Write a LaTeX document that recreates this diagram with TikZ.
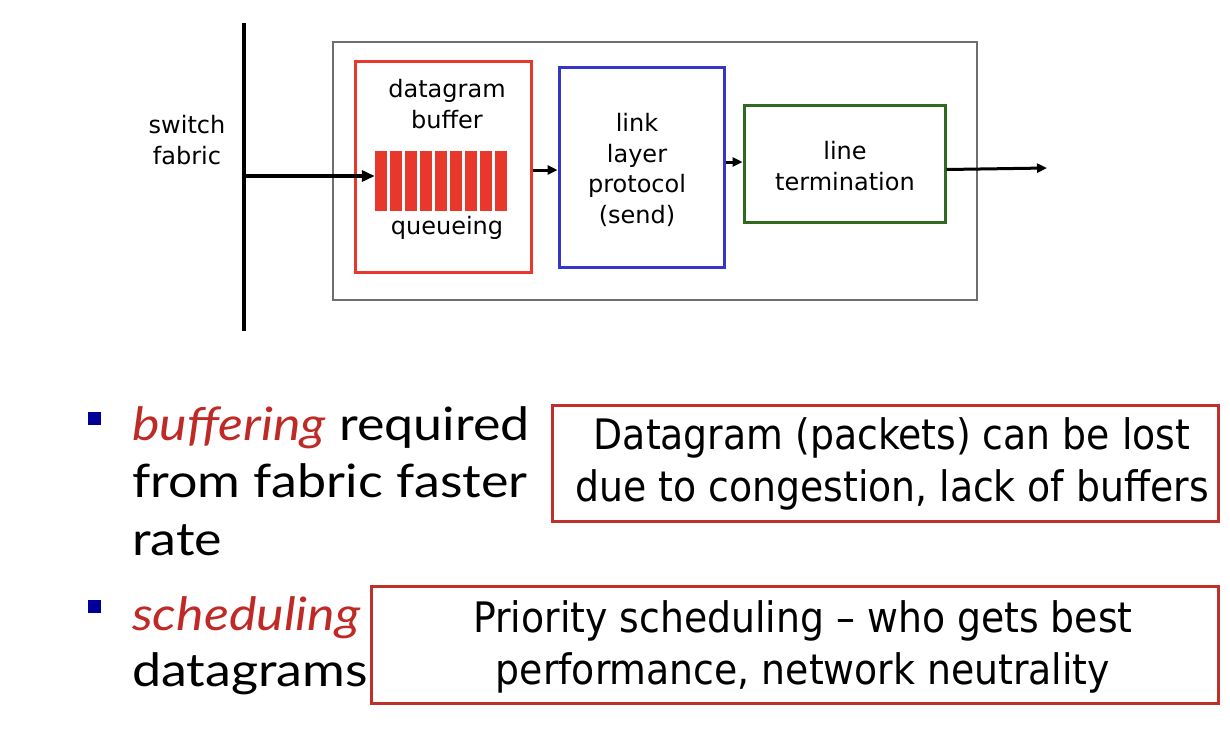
\documentclass[tikz,border=0pt]{standalone}
\usepackage{fontspec}
\setmainfont{Lato}[FakeStretch=1.13]
\newfontfamily\diagfont{DejaVu Sans}
\newfontfamily\notefont{DejaVu Sans Condensed}
\usetikzlibrary{arrows.meta}

\definecolor{bufred}{HTML}{E8382B}
\definecolor{linkblue}{HTML}{3535C8}
\definecolor{termgreen}{HTML}{2F6A1F}
\definecolor{framegray}{HTML}{6E6E6E}
\definecolor{emred}{HTML}{BF2A26}
\definecolor{bulletblue}{HTML}{000099}
\definecolor{notered}{HTML}{C0302A}

\tikzset{
  stage/.style={draw, line width=3pt, fill=white, inner sep=0pt},
  label/.style={font=\diagfont\fontsize{24}{30.5}\selectfont, align=center, inner sep=0pt},
  slot/.style={fill=bufred, minimum width=12pt, minimum height=60pt, inner sep=0pt},
  flow/.style={line width=3.5pt, -{Triangle[length=13pt,width=11pt]}},
  hop/.style={line width=3pt, -{Triangle[length=10pt,width=9pt]}},
  bulletsq/.style={fill=bulletblue, minimum width=13pt, minimum height=13pt, inner sep=0pt},
  bodytext/.style={font=\fontsize{46}{57}\selectfont, anchor=base west, inner sep=0pt},
  callout/.style={draw=notered, line width=3pt, fill=white, inner sep=0pt},
  notetext/.style={font=\notefont\fontsize{42}{52}\selectfont, align=center, inner sep=0pt},
}

\begin{document}
\begin{tikzpicture}[x=1pt,y=-1pt]
\useasboundingbox[fill=white] (0,0) rectangle (1230,734);

% output port block
\node[stage, draw=framegray, line width=2.5pt, minimum width=644pt, minimum height=258pt] (port) at (655,171) {};
\node[stage, draw=bufred, minimum width=176pt, minimum height=211pt] (buffer) at (443,166.5) {};
\node[stage, draw=linkblue, minimum width=165pt, minimum height=200pt] (link) at (641.5,167) {};
\node[stage, draw=termgreen, minimum width=201pt, minimum height=117pt] (term) at (844.5,163.5) {};

% switch fabric bus
\coordinate (ftop) at (244,23);
\coordinate (fbot) at (244,331);
\coordinate (tap) at (244,176);
\draw[line width=4pt] (ftop) -- (fbot);
\node[label] (fabric) at (187,140) {switch\\fabric};

% queue slots
\foreach \i in {1,...,9} {
  \node[slot] (bar\i) at ({375+6+15*(\i-1)},181) {};
}
\node[label] (bufname) at (447,104) {datagram\\buffer};
\node[label] (qname) at (447,228) {queueing};
\node[label] (linkname) at (637,170) {link\\layer\\protocol\\(send)};
\node[label] (termname) at (845,166) {line\\termination};

% connectors
\coordinate (out) at (1047,168);
\draw[flow] (tap) -- (tap -| bar1.west);
\draw[hop] ([yshift=-3.5pt]buffer.east) -- ([yshift=-3.5pt]buffer.east -| link.west);
\draw[hop] ([yshift=5pt]link.east) -- ([yshift=5pt]link.east -| term.west);
\draw[hop] ([yshift=-6pt]term.east) -- (out);

% bullet list
\node[bulletsq] (b1) at (94.5,418.5) {};
\node[bodytext] (l1) at (132,440) {\textcolor{emred}{\textit{buffering}} required};
\node[bodytext] (l2) at (132,497) {from fabric faster};
\node[bodytext] (l3) at (132,555) {rate};
\node[bulletsq] (b2) at (94.5,606) {};
\node[bodytext] (l4) at (132,630) {\textcolor{emred}{\textit{scheduling}}};
\node[bodytext] (l5) at (132,686) {datagrams};

% callouts
\node[callout, minimum width=666pt, minimum height=116pt] (loss) at (885,463) {};
\node[notetext] (losstext) at (892,464) {Datagram (packets) can be lost\\due to congestion, lack of buffers};
\node[callout, minimum width=847pt, minimum height=117pt] (prio) at (794.5,644.5) {};
\node[notetext] (priotext) at (803,647) {Priority scheduling – who gets best\\performance, network neutrality};
\end{tikzpicture}
\end{document}
